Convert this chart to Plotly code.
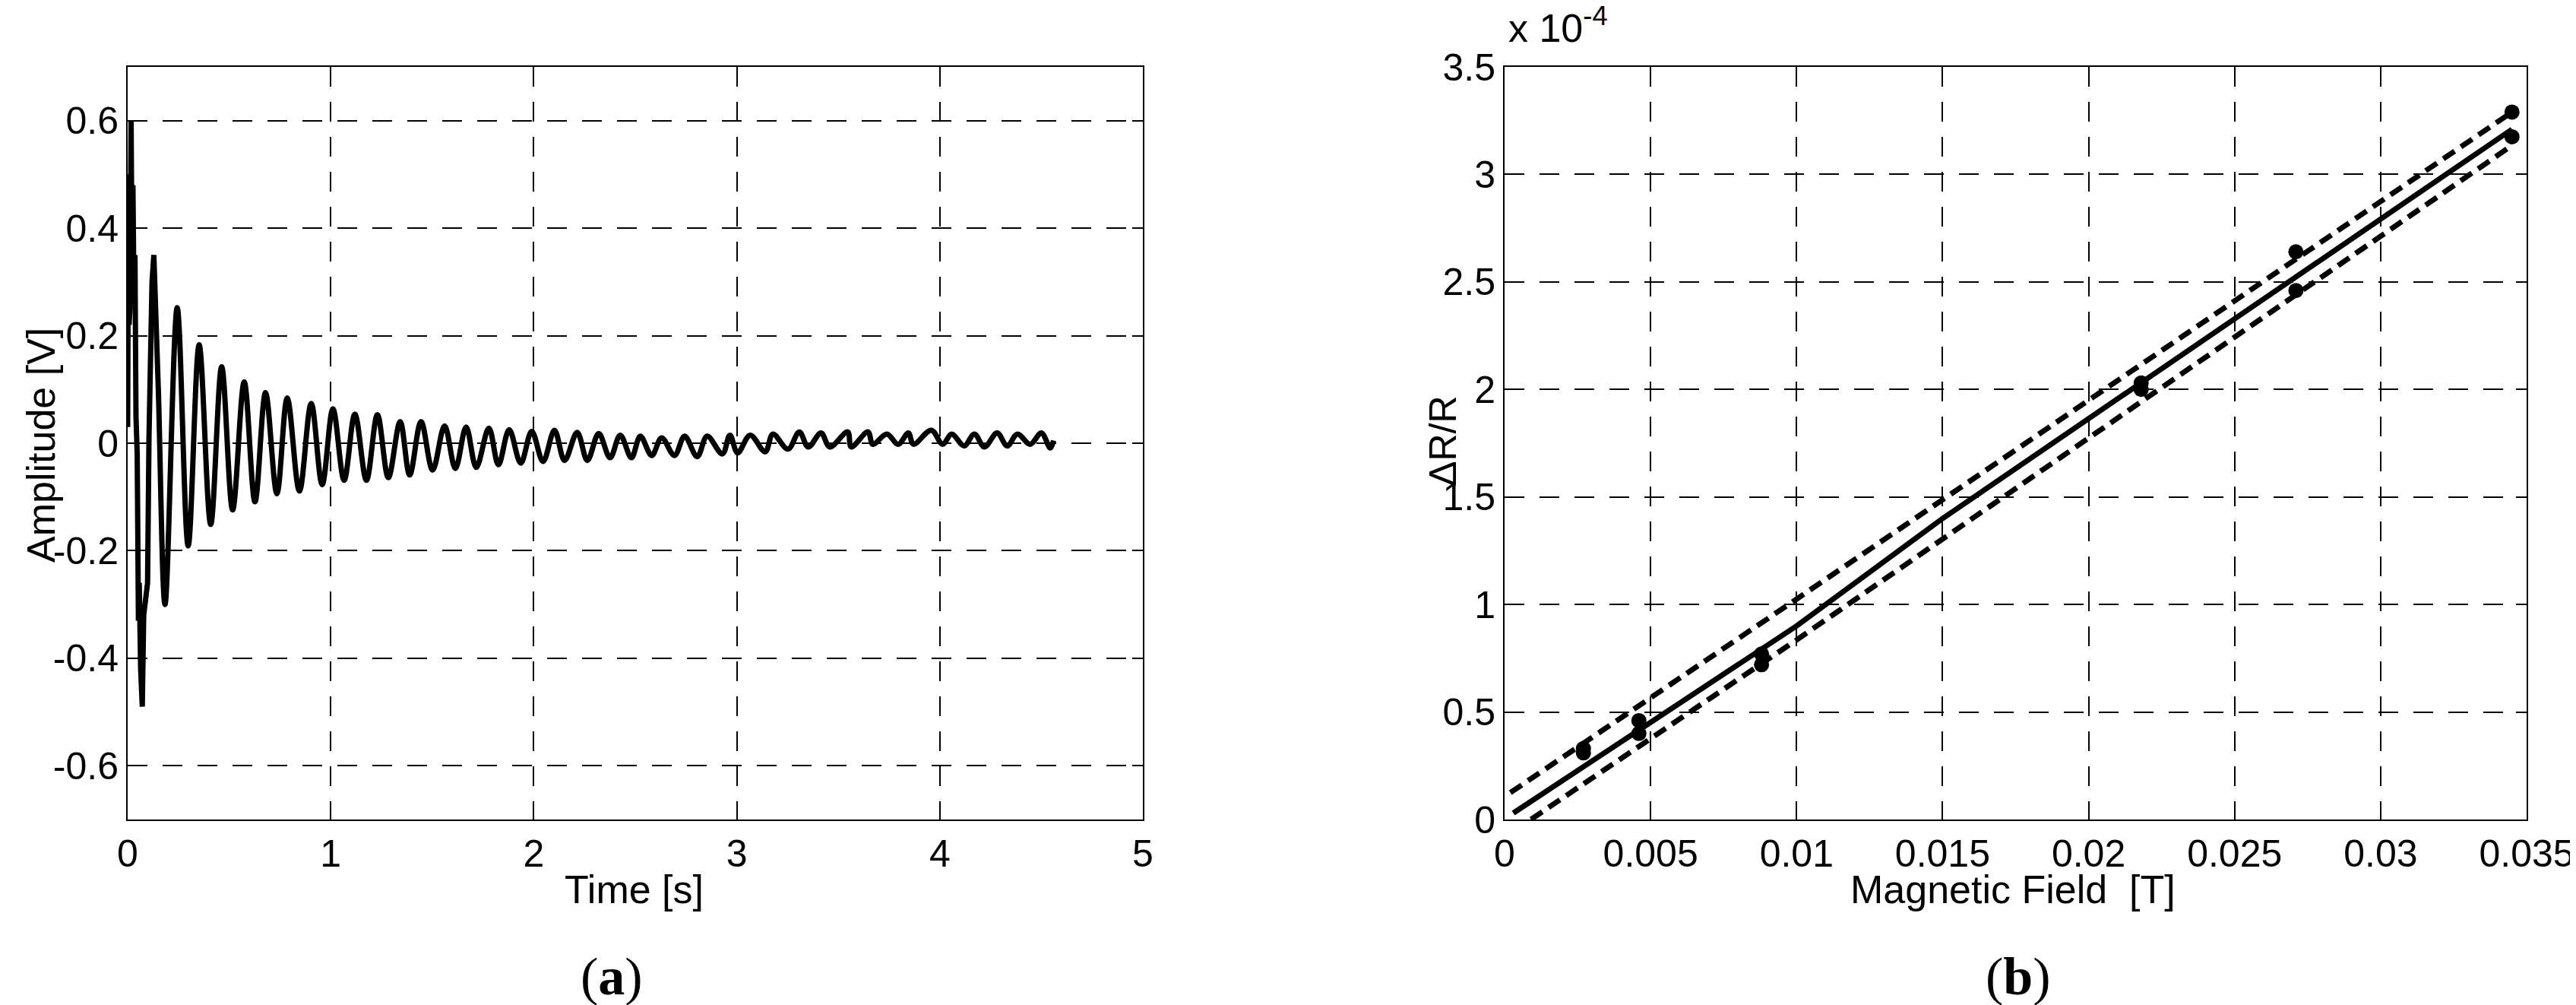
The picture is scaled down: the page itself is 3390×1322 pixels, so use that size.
import plotly.graph_objects as go
from plotly.subplots import make_subplots

W, H = 3390, 1322

# (a) decaying response
# first spiky part (drawn with straight segments)
t_start = [0.000, 0.004, 0.007, 0.011, 0.017, 0.022, 0.026, 0.031, 0.036, 0.041, 0.047,
           0.053, 0.057, 0.064, 0.072, 0.079, 0.090, 0.098, 0.105, 0.112, 0.120, 0.129]
v_start = [0.03, 0.50, 0.22, 0.25, 0.60, 0.30, 0.48, 0.28, 0.35, 0.05, -0.02,
           -0.33, -0.26, -0.42, -0.49, -0.32, -0.28, -0.26, 0.01, 0.25, 0.30, 0.35]

# peaks / troughs of the ringing (drawn as a spline)
t_wave = [0.129, 0.151, 0.184, 0.244, 0.298, 0.352, 0.409, 0.463, 0.517, 0.574, 0.627,
          0.679, 0.735, 0.786, 0.846, 0.904, 0.958, 1.011, 1.066, 1.119, 1.176, 1.230,
          1.284, 1.342, 1.389, 1.445, 1.502, 1.561, 1.614, 1.667, 1.717, 1.779, 1.826,
          1.879, 1.936, 1.990, 2.046, 2.102, 2.152, 2.214, 2.264, 2.320, 2.376, 2.426,
          2.481, 2.525, 2.581, 2.630, 2.693, 2.743, 2.805, 2.854, 2.929, 2.966, 3.004,
          3.066, 3.140, 3.178, 3.252, 3.308, 3.352, 3.415, 3.458, 3.546, 3.564, 3.646,
          3.670, 3.739, 3.795, 3.845, 3.870, 3.958, 4.014, 4.058, 4.120, 4.170, 4.220,
          4.282, 4.332, 4.382, 4.445, 4.500, 4.544, 4.560]
v_wave = [0.35, 0.10, -0.30, 0.252, -0.191, 0.183, -0.151, 0.142, -0.124, 0.114, -0.109,
          0.094, -0.094, 0.084, -0.089, 0.074, -0.077, 0.064, -0.069, 0.054, -0.069, 0.053,
          -0.064, 0.040, -0.059, 0.040, -0.050, 0.032, -0.047, 0.030, -0.045, 0.028, -0.040,
          0.025, -0.037, 0.022, -0.034, 0.024, -0.032, 0.020, -0.032, 0.018, -0.027, 0.015,
          -0.027, 0.013, -0.023, 0.010, -0.023, 0.013, -0.025, 0.013, -0.020, 0.015, -0.018,
          0.015, -0.016, 0.017, -0.011, 0.021, -0.007, 0.019, -0.007, 0.021, -0.007, 0.021,
          -0.002, 0.017, -0.002, 0.019, -0.002, 0.024, -0.002, 0.017, -0.005, 0.017, -0.007,
          0.019, -0.005, 0.017, -0.002, 0.019, -0.009, 0.005]

# (b) calibration, dR/R in units of 1e-4
field_pts = [0.0027, 0.0027, 0.0046, 0.0046, 0.0088, 0.0088, 0.0218, 0.0218,
             0.0271, 0.0271, 0.0345, 0.0345]
drr_pts = [0.33, 0.31, 0.46, 0.40, 0.77, 0.72, 2.03, 2.00, 2.64, 2.46, 3.29, 3.175]

fit_x = [0.0003, 0.010, 0.015, 0.0345]
fit_y = [0.03, 0.90, 1.40, 3.21]
upper_x = [0.0002, 0.010, 0.0345]
upper_y = [0.125, 1.025, 3.29]
lower_x = [0.0003, 0.010, 0.0345]
lower_y = [-0.055, 0.835, 3.135]

a_xticks = [0, 1, 2, 3, 4, 5]
a_yticks = [-0.6, -0.4, -0.2, 0, 0.2, 0.4, 0.6]
a_ylabels = ['-0.6', '-0.4', '-0.2', '0', '0.2', '0.4', '0.6']
b_xticks = [0, 0.005, 0.01, 0.015, 0.02, 0.025, 0.03, 0.035]
b_xlabels = ['0', '0.005', '0.01', '0.015', '0.02', '0.025', '0.03', '0.035']
b_yticks = [0, 0.5, 1, 1.5, 2, 2.5, 3, 3.5]
b_ylabels = ['0', '0.5', '1', '1.5', '2', '2.5', '3', '3.5']


def px(x):
    return x / W


def py(y):
    return 1 - y / H


SANS = 'Liberation Sans, Arial, sans-serif'
SERIF = 'Liberation Serif, Times New Roman, serif'

fig = make_subplots(rows=1, cols=2)

fig.add_trace(go.Scatter(x=t_start, y=v_start, mode='lines',
                         line=dict(color='black', width=7)), row=1, col=1)
fig.add_trace(go.Scatter(x=t_wave, y=v_wave, mode='lines',
                         line=dict(color='black', width=7, shape='spline', smoothing=1)),
              row=1, col=1)

fig.add_trace(go.Scatter(x=upper_x, y=upper_y, mode='lines',
                         line=dict(color='black', width=7, dash='18px,10px')), row=1, col=2)
fig.add_trace(go.Scatter(x=lower_x, y=lower_y, mode='lines',
                         line=dict(color='black', width=7, dash='18px,10px')), row=1, col=2)
fig.add_trace(go.Scatter(x=fit_x, y=fit_y, mode='lines',
                         line=dict(color='black', width=7)), row=1, col=2)
fig.add_trace(go.Scatter(x=field_pts, y=drr_pts, mode='markers',
                         marker=dict(color='black', size=20)), row=1, col=2)

eixo = dict(showline=True, linecolor='black', linewidth=2, mirror='ticks',
            ticks='inside', ticklen=14, tickwidth=2, tickcolor='black',
            showgrid=True, gridcolor='black', gridwidth=1.8, griddash='26px,20px',
            zeroline=False, automargin=False,
            tickfont=dict(family=SANS, size=50, color='black'))

fig.update_xaxes(eixo)
fig.update_yaxes(eixo)

fig.update_layout(
    width=W, height=H,
    margin=dict(l=0, r=0, t=0, b=0),
    showlegend=False,
    plot_bgcolor='white', paper_bgcolor='white',
    xaxis=dict(domain=[px(160), px(1496)], range=[0, 5], tickvals=a_xticks),
    yaxis=dict(domain=[py(1070), py(80)], range=[-0.7, 0.7],
               tickvals=a_yticks, ticktext=a_ylabels),
    xaxis2=dict(domain=[px(1972), px(3317)], range=[0, 0.035],
                tickvals=b_xticks, ticktext=b_xlabels),
    yaxis2=dict(domain=[py(1070), py(80)], range=[0, 3.5],
                tickvals=b_yticks, ticktext=b_ylabels),
)

textos = [
    dict(text='Time [s]', x=px(826), y=py(1162), size=52, family=SANS, angle=0),
    dict(text='Magnetic Field\u00a0 [T]', x=px(2641), y=py(1162), size=52, family=SANS, angle=0),
    dict(text='Amplitude [V]', x=px(46), y=py(578), size=52, family=SANS, angle=-90),
    dict(text='\u0394R/R', x=px(1891), y=py(572), size=50, family=SANS, angle=-90),
    dict(text='(<b>a</b>)', x=px(797), y=py(1276), size=70, family=SERIF, angle=0),
    dict(text='(<b>b</b>)', x=px(2648), y=py(1276), size=70, family=SERIF, angle=0),
]
for t in textos:
    fig.add_annotation(text=t['text'], x=t['x'], y=t['y'], xref='paper', yref='paper',
                       xanchor='center', yanchor='middle', showarrow=False,
                       textangle=t['angle'],
                       font=dict(family=t['family'], size=t['size'], color='black'))

fig.add_annotation(text='x 10<sup>-4</sup>', x=px(1975), y=py(60), xref='paper', yref='paper',
                   xanchor='left', yanchor='bottom', showarrow=False,
                   font=dict(family=SANS, size=52, color='black'))

fig.write_html("out.html")
